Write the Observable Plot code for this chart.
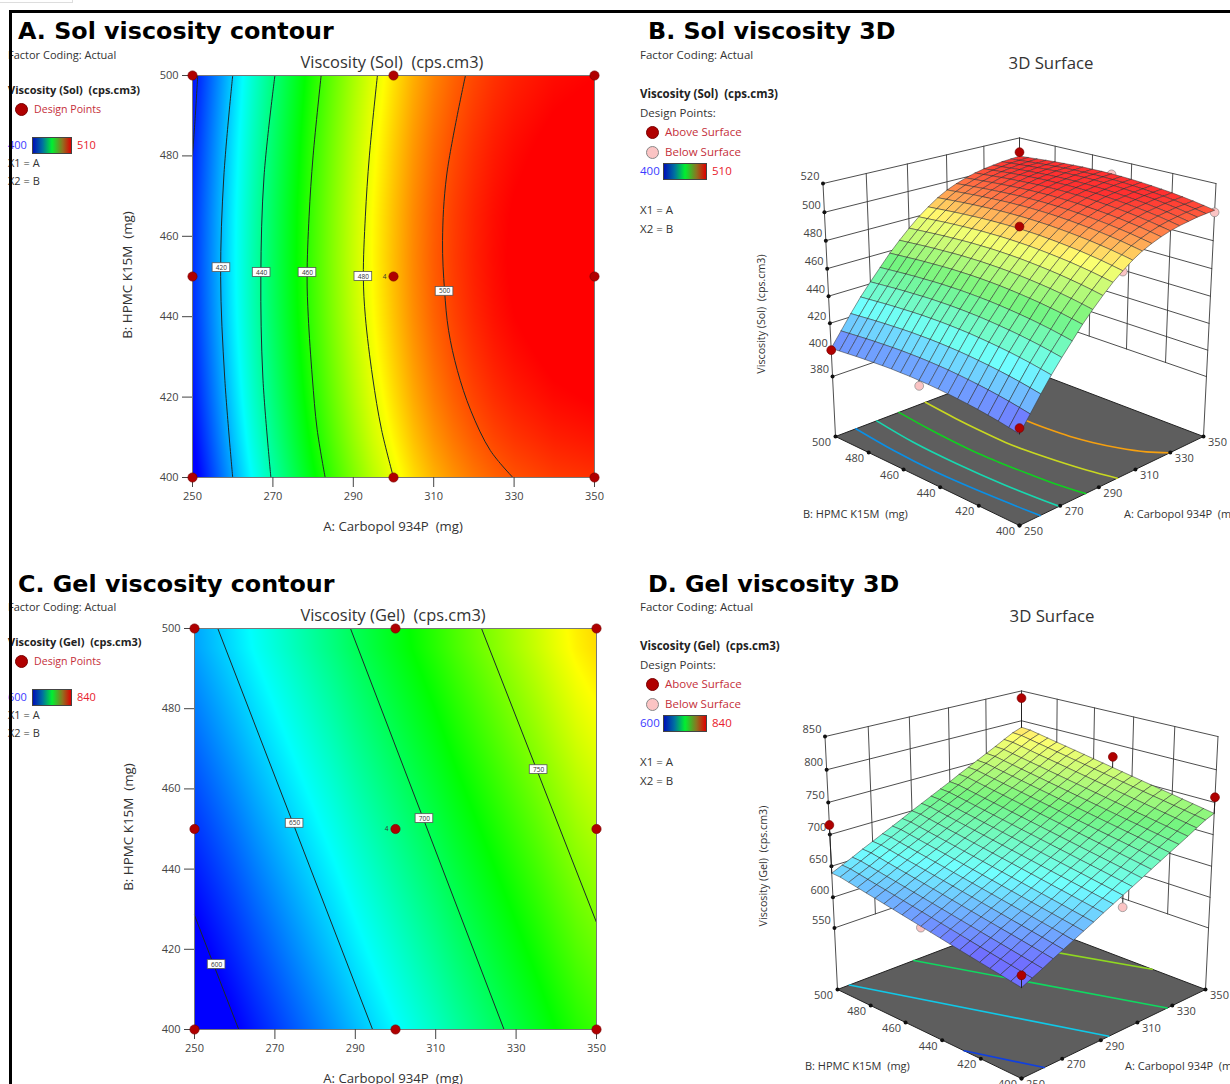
<!DOCTYPE html>
<html><head><meta charset="utf-8">
<style>
html,body{margin:0;padding:0;background:#fff}
#page{position:relative;width:1230px;height:1084px;overflow:hidden;background:#fff;font-family:"Open Sans",sans-serif;color:#333}
#page svg{position:absolute;overflow:visible;max-width:none}
.t{position:absolute;white-space:pre;transform:translateY(-50%);line-height:1}
</style>
<script src="https://cdn.jsdelivr.net/npm/d3@7"></script>
<script src="https://cdn.jsdelivr.net/npm/@observablehq/plot@0.6"></script>
</head><body><div id="page"></div>
<script>
// ---- factor grid
const carbopol=[250,255,260,265,270,275,280,285,290,295,300,305,310,315,320,325,330,335,340,345,350];
const hpmc=[400,405,410,415,420,425,430,435,440,445,450,455,460,465,470,475,480,485,490,495,500];
const xTicks=[250,270,290,310,330,350];
const yTicks=[400,420,440,460,480,500];
// ---- response: value along Carbopol at mid HPMC + shift along HPMC
const solAlongCarbopol=[405,415.5,426,436,445,453.5,462,469.5,476.5,483,488.5,493.5,497.5,500.5,503,505,506.5,507.5,508.5,509,509.5];
const solAlongHpmc=[-8,-6.6,-5.3,-4.2,-3.2,-2.4,-1.7,-1.1,-.6,-.3,-.1,0,-.1,-.2,-.5,-.9,-1.3,-1.8,-2.4,-3,-3.6];
const gelAlongCarbopol=[612,619.5,627,635,642.5,650,657.5,665,673,680.5,688,695.5,703,711,718.5,726,733.5,741,749,756.5,762];
const gelAlongHpmc=[-28.9,-26,-23.1,-20.2,-17.3,-14.5,-11.6,-8.7,-5.8,-2.9,0,2.9,5.8,8.7,11.6,14.5,17.3,20.2,23.1,26,27];
// ---- contour lines [Carbopol, HPMC]
const solContours=[
 {level:400,color:"#0000ff",pts:[[251.3,500],[250.7,490],[250,480]]},
 {level:420,color:"#0a90e6",pts:[[260,400],[258,425],[257,450],[257.8,475],[260,500]]},
 {level:440,color:"#18d8b0",pts:[[269.5,400],[267.5,425],[267,450],[267.8,475],[270.5,500]]},
 {level:460,color:"#10d020",pts:[[283,400],[281,412],[279.8,425],[278.8,440],[278.5,450],[279,465],[280,480],[282,500]]},
 {level:480,color:"#c8d820",pts:[[300,400],[297,412],[294.8,425],[293,440],[292.5,450],[293,465],[294,480],[296,500]]},
 {level:500,color:"#f5a010",pts:[[329.7,400],[324.1,406.7],[319.2,416.7],[315.9,426.6],[313.7,436.6],[312.7,446.5],[312.2,459],[313.2,475],[317.9,500]]}
];
const gelContours=[
 {level:600,color:"#1040e0",pts:[[261,400],[250,428.5]]},
 {level:650,color:"#10c8e8",pts:[[294.3,400],[255.8,500]]},
 {level:700,color:"#10d860",pts:[[327,400],[288.8,500]]},
 {level:750,color:"#90d820",pts:[[350,426.7],[321.4,500]]}
];
const solLabels=[[257.2,452.2,"420"],[267.2,451,"440"],[278.6,451,"460"],[292.5,450,"480"],[312.7,446.3,"500"]];
const gelLabels=[[255.5,416.2,"600"],[274.9,451.4,"650"],[307.2,452.6,"700"],[335.6,464.8,"750"]];
const designA=[250,250,250,300,300,300,350,350,350];
const designB=[400,450,500,400,450,500,400,450,500];
// ---- 3D design points [Carbopol,HPMC,response]
const solAbove=[[350,500,509],[300,450,490],[250,400,401],[250,500,400]];
const solBelow=[[350,450,509],[350,400,500],[300,400,480],[250,450,401]];
const gelAbove=[[350,500,838],[350,450,779],[350,400,758],[250,500,715],[250,400,601]];
const gelBelow=[[300,400,641],[250,450,610]];
const solZTicks=[380,400,420,440,460,480,500,520];
const gelZTicks=[550,600,650,700,750,800,850];
const solStops=[400,427.5,455,482,506];
const gelStops=[600,660,720,780,840];
const pureColors=["#0000ff","#00ffff","#00ff00","#ffff00","#ff0000"];
const softColors=["#7070ff","#70ffff","#74f580","#ffff70","#ff3030"];

const page=document.getElementById("page");
function T(s,x,y,o={}){
  const e=document.createElement("div");e.className="t";e.textContent=s;
  e.style.left=x+"px";e.style.top=y+"px";e.style.fontSize=(o.size||11.5)+"px";
  if(o.color)e.style.color=o.color; if(o.weight)e.style.fontWeight=o.weight; if(o.font)e.style.fontFamily=o.font;
  if(o.center)e.style.transform="translate(-50%,-50%)";
  if(o.rot)e.style.transform="translate(-50%,-50%) rotate(-90deg)";
  page.appendChild(e);return e;
}
function box(x,y,w,h,css){const e=document.createElement("div");e.style.cssText=`position:absolute;left:${x}px;top:${y}px;width:${w}px;height:${h}px;${css}`;page.appendChild(e);return e;}
function disc(x,y,fill,stroke){box(x-6.5,y-6.5,13,13,`box-sizing:border-box;border-radius:50%;background:${fill};border:1px solid ${stroke}`);}
const legendGrad="background:linear-gradient(to right,#0010b8,#0070a0 25%,#00f030 50%,#907020 78%,#e00000);border:1px solid #444;box-sizing:border-box";
const RED="#c5303a",DOT="#b00000",PINK="#fbc4c4";

function table(alongA,alongB){
  const rows=[];
  hpmc.forEach((b,j)=>carbopol.forEach((a,i)=>rows.push({a,b,v:alongA[i]+alongB[j]})));
  return rows;
}
function contourPlot(o){
  const rows=table(o.alongA,o.alongB);
  const lines=o.contours.flatMap(c=>c.pts.map(p=>({a:p[0],b:p[1],level:c.level})));
  const labs=o.labels.map(l=>({a:l[0],b:l[1],s:l[2]}));
  const pts=designA.map((a,i)=>({a,b:designB[i]}));
  const svg=Plot.plot({
    width:620,height:o.h,marginLeft:o.left,marginRight:620-o.left-402,marginTop:o.top,marginBottom:o.h-o.top-o.plotH,
    style:{fontFamily:'"Open Sans",sans-serif',fontSize:"11px",color:"#444",overflow:"visible"},
    x:{domain:[250,350]},y:{domain:[400,500]},
    color:{type:"linear",domain:o.stops,range:pureColors,clamp:true},
    marks:[
      Plot.raster(rows,{x:"a",y:"b",fill:"v",interpolate:"barycentric",pixelSize:1}),
      Plot.line(lines,{x:"a",y:"b",z:"level",stroke:"#1c2a2a",strokeWidth:1,curve:"catmull-rom"}),
      Plot.frame({stroke:"#777"}),
      Plot.axisX({ticks:xTicks,tickFormat:d=>String(d),tickSize:10,tickPadding:5,label:null}),
      Plot.axisY({ticks:yTicks,tickFormat:d=>String(d),tickSize:10,tickPadding:4,label:null}),
      Plot.rect(labs,{x1:d=>d.a-2.2,x2:d=>d.a+2.2,y1:d=>d.b-1.1,y2:d=>d.b+1.1,fill:"white",stroke:"#555",strokeWidth:.8}),
      Plot.text(labs,{x:"a",y:"b",text:"s",fontSize:6.5,fill:"#333"}),
      Plot.dot(pts,{x:"a",y:"b",r:4.6,fill:DOT,stroke:"#7a0000",strokeWidth:.7}),
      Plot.text([{a:300,b:450}],{x:"a",y:"b",text:()=>"4",dx:-9,fontSize:6.5,fill:"#333"})
    ]
  });
  svg.style.left="0px";svg.style.top="0px";
  page.appendChild(svg);
}
// perspective camera of the 3D box: u,v,w are normalised factors
const cam={cx:389,a:184,b0:436,b1:-26.3,b2:-264.6,p:.1195,q:-.0636};
function project(u,v,w){
  const s=u-v,d=u+v-1,D=1+cam.p*d+cam.q*w;
  return [cam.cx+cam.a*s/D,(cam.b0+cam.b1*d+cam.b2*w)/D];
}
function surfacePlot(o){
  const U=a=>(a-250)/100,V=b=>(b-400)/100,W=z=>(z-o.zMin)/(o.zMax-o.zMin);
  const P=(a,b,z,extra)=>{const p=project(U(a),V(b),W(z));return {x:p[0],y:p[1],...extra};};
  const val=(i,j)=>o.alongA[i]+o.alongB[j];
  const zLow=o.zTicks[0],zHigh=o.zMax;
  // walls
  const wall=[];let id=0;
  for(const a of xTicks){id++;wall.push(P(a,500,a==250?o.zMin:zLow,{id}),P(a,500,zHigh,{id}));}
  for(const b of yTicks){id++;wall.push(P(350,b,(b==400)?o.zMin:zLow,{id}),P(350,b,zHigh,{id}));}
  for(const z of o.zTicks){id++;wall.push(P(250,500,z,{id}),P(350,500,z,{id}),P(350,400,z,{id}));}
  // floor
  const floorPts=[[250,400],[350,400],[350,500],[250,500],[250,400]].map(c=>P(c[0],c[1],o.zMin,{}));
  const floorLines=o.contours.filter(c=>c.level!=400).flatMap(c=>c.pts.map(p=>P(p[0],p[1],o.zMin,{level:c.level,col:c.color})));
  const floorTicksX=xTicks.map(a=>P(a,400,o.zMin,{s:String(a)}));
  const floorTicksY=yTicks.map(b=>P(250,b,o.zMin,{s:String(b)}));
  const zt=o.zTicks.map(z=>P(250,500,z,{s:String(z)}));
  // surface quads, far to near
  const quads=[];let q=0;
  for(let j=20;j>0;j--)for(let i=20;i>0;i--){
    const c=[[i,j],[i-1,j],[i-1,j-1],[i,j-1],[i,j]];
    const v=(val(i,j)+val(i-1,j)+val(i-1,j-1)+val(i,j-1))/4;q++;
    for(const k of c)quads.push(P(carbopol[k[0]],hpmc[k[1]],val(k[0],k[1]),{q,v}));
  }
  const surfZ=(a,b)=>val(carbopol.indexOf(a),hpmc.indexOf(b));
  const stems=l=>l.flatMap((p,n)=>[P(p[0],p[1],p[2],{n}),P(p[0],p[1],surfZ(p[0],p[1]),{n})]);
  const dots=l=>l.map(p=>P(p[0],p[1],p[2],{}));
  const svg=Plot.plot({
    width:600,height:o.h,margin:0,
    style:{fontFamily:'"Open Sans",sans-serif',fontSize:"11px",color:"#444",overflow:"visible"},
    x:{domain:[0,600],range:[0,600],axis:null},y:{domain:[0,o.h],range:[0,o.h],axis:null},
    color:{type:"linear",domain:o.stops,range:softColors,clamp:true},
    marks:[
      Plot.line(wall,{x:"x",y:"y",z:"id",stroke:"#3a3a3a",strokeWidth:.9}),
      Plot.line(floorPts,{x:"x",y:"y",fill:"#5e5e5e",stroke:"#222",strokeWidth:1}),
      Plot.line(floorLines,{x:"x",y:"y",z:"level",stroke:"col",strokeWidth:1.6,curve:"catmull-rom"}),
      Plot.dot(floorTicksX,{x:"x",y:"y",r:2,fill:"#111"}),
      Plot.dot(floorTicksY,{x:"x",y:"y",r:2,fill:"#111"}),
      Plot.dot(zt,{x:"x",y:"y",r:2,fill:"#111"}),
      Plot.text(floorTicksX,{x:"x",y:"y",text:"s",dx:14,dy:6,fill:"#444"}),
      Plot.text(floorTicksY,{x:"x",y:"y",text:"s",dx:-14,dy:6,fill:"#444"}),
      Plot.text(zt,{x:"x",y:"y",text:"s",dx:-13,dy:-7,fill:"#444"}),
      Plot.line(stems(o.below),{x:"x",y:"y",z:"n",stroke:"#222",strokeWidth:1}),
      Plot.dot(dots(o.below),{x:"x",y:"y",r:4.4,fill:PINK,stroke:"#888",strokeWidth:.7}),
      Plot.line(quads,{x:"x",y:"y",z:"q",fill:"v",stroke:"#333",strokeWidth:.65,strokeOpacity:.8}),
      Plot.line(stems(o.above),{x:"x",y:"y",z:"n",stroke:"#222",strokeWidth:1}),
      Plot.dot(dots(o.above),{x:"x",y:"y",r:4.4,fill:DOT,stroke:"#7a0000",strokeWidth:.7})
    ]
  });
  svg.style.left=o.left+"px";svg.style.top=o.top+"px";
  page.appendChild(svg);
}
contourPlot({alongA:solAlongCarbopol,alongB:solAlongHpmc,contours:solContours,labels:solLabels,stops:[400,427.5,455,482.5,506],left:192,top:75,plotH:402,h:540});
contourPlot({alongA:gelAlongCarbopol,alongB:gelAlongHpmc,contours:gelContours,labels:gelLabels,stops:gelStops,left:194,top:628,plotH:401,h:456});
surfacePlot({alongA:solAlongCarbopol,alongB:solAlongHpmc,contours:solContours,stops:solStops,zMin:333.6,zMax:520,zTicks:solZTicks,above:solAbove,below:solBelow,left:630,top:0,h:552});
surfacePlot({alongA:gelAlongCarbopol,alongB:gelAlongHpmc,contours:gelContours,stops:gelStops,zMin:447,zMax:850,zTicks:gelZTicks,above:gelAbove,below:gelBelow,left:632,top:553,h:531});

// titles
const TF="'DejaVu Sans',sans-serif";
T("A. Sol viscosity contour",18,32,{size:23.8,weight:700,color:"#000",font:TF});
T("B. Sol viscosity 3D",648,32,{size:23.8,weight:700,color:"#000",font:TF});
T("C. Gel viscosity contour",18,585,{size:23.8,weight:700,color:"#000",font:TF});
T("D. Gel viscosity 3D",648,585,{size:23.8,weight:700,color:"#000",font:TF});
T("Viscosity (Sol)  (cps.cm3)",392,62,{size:16.4,center:1});
T("Viscosity (Gel)  (cps.cm3)",393,615,{size:16.4,center:1});
T("3D Surface",1051,63,{size:16.8,center:1});
T("3D Surface",1052,616,{size:16.8,center:1});
T("A: Carbopol 934P  (mg)",393,527,{size:13.2,center:1});
T("A: Carbopol 934P  (mg)",393,1079,{size:13.2,center:1});
T("B: HPMC K15M  (mg)",128,275,{size:13.4,rot:1});
T("B: HPMC K15M  (mg)",129,827,{size:13.4,rot:1});
T("B: HPMC K15M  (mg)",803,513,{size:11});
T("B: HPMC K15M  (mg)",805,1065,{size:11});
T("A: Carbopol 934P  (mg)",1124,513,{size:11});
T("A: Carbopol 934P  (mg)",1125,1065,{size:11});
T("Viscosity (Sol)  (cps.cm3)",761,314,{size:10.7,rot:1});
T("Viscosity (Gel)  (cps.cm3)",763,866,{size:10.7,rot:1});
// contour legends
function leftLegend(y0,name,lo,hi){
  T("Factor Coding: Actual",8,y0-1,{size:11});
  T(name,8,y0+34,{size:11,weight:700,color:"#222"});
  disc(21,y0+54,DOT,"#7a0000");
  T("Design Points",34,y0+54,{size:10.6,color:RED});
  T(lo,8,y0+89,{size:11,color:"#3a3aff"});
  box(32,y0+82,40,17,legendGrad);
  T(hi,77,y0+89,{size:11,color:"#e8202c"});
  T("X1 = A",8,y0+106.5,{size:11});
  T("X2 = B",8,y0+125,{size:11});
}
leftLegend(55,"Viscosity (Sol)  (cps.cm3)","400","510");
leftLegend(607,"Viscosity (Gel)  (cps.cm3)","600","840");
// 3D legends
function rightLegend(y0,name,lo,hi){
  T("Factor Coding: Actual",640,y0,{size:11.5});
  T(name,640,y0+39,{size:11.5,weight:700,color:"#222"});
  T("Design Points:",640,y0+58,{size:11.5});
  disc(652,y0+77,DOT,"#7a0000");
  T("Above Surface",665,y0+77,{size:11.5,color:RED});
  disc(652,y0+97,PINK,"#888");
  T("Below Surface",665,y0+97,{size:11.5,color:RED});
  T(lo,640,y0+116,{size:11.5,color:"#3a3aff"});
  box(663,y0+108,44,17,legendGrad);
  T(hi,712,y0+116,{size:11.5,color:"#e8202c"});
  T("X1 = A",640,y0+155,{size:11.5});
  T("X2 = B",640,y0+174,{size:11.5});
}
rightLegend(55,"Viscosity (Sol)  (cps.cm3)","400","510");
rightLegend(607,"Viscosity (Gel)  (cps.cm3)","600","840");
// page border
box(9,10,1221,1074,"box-sizing:border-box;border-top:3px solid #000;border-left:3px solid #000;pointer-events:none");
box(0,0,73,3,"box-sizing:border-box;border-right:1px solid #ddd;border-bottom:1px solid #ddd");
</script></body></html>
